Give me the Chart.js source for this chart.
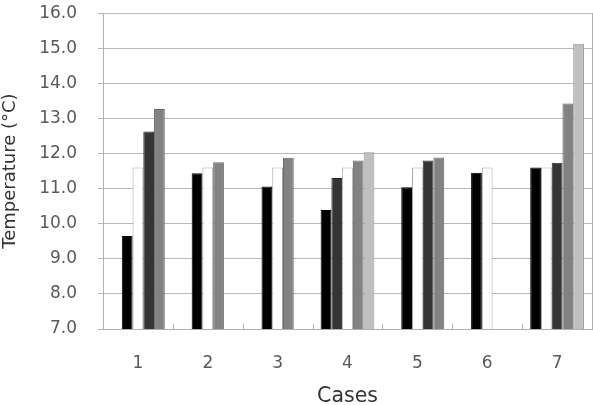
<!DOCTYPE html>
<html>
<head>
<meta charset="utf-8">
<script src="https://cdn.jsdelivr.net/npm/chart.js@4/dist/chart.umd.min.js"></script>
<style>
  html, body { margin: 0; padding: 0; background: #ffffff; }
  #wrap { width: 593px; height: 405px; }
</style>
</head>
<body>
<div id="wrap"><canvas id="c" width="593" height="405"></canvas></div>
<script>
// ---- data ----
const cases = ['1', '2', '3', '4', '5', '6', '7'];
const blackSeries  = [9.65, 11.44, 11.06, 10.39, 11.04, 11.45, 11.60];
const whiteSeries  = [11.60, 11.60, 11.60, 11.60, 11.60, 11.60, 11.60];
const darkSeries   = [12.63, null, null, 11.30, 11.80, null, 11.74];
const mediumSeries = [13.27, 11.75, 11.88, 11.80, 11.89, null, 13.43];
const lightSeries  = [null, null, null, 12.04, null, null, 15.13];
const yTicks = [7, 8, 9, 10, 11, 12, 13, 14, 15, 16];

// order of the series inside each case group (one entry per bar slot)
const slotOrder = [
  [null, 'black', 'white', 'dark', 'medium'],
  [null, 'black', 'white', 'medium', null],
  [null, 'black', 'white', 'medium', null],
  ['black', 'dark', 'white', 'medium', 'light'],
  [null, 'black', 'white', 'dark', 'medium'],
  [null, 'black', 'white', null, null],
  ['black', 'white', 'dark', 'medium', 'light']
];

// ---- styles ----
const seriesValues = { black: blackSeries, white: whiteSeries, dark: darkSeries, medium: mediumSeries, light: lightSeries };
const fillColors = { black: '#000000', white: '#ffffff', dark: '#353535', medium: '#828282', light: '#bfbfbf' };
const edgeColors = { black: '#000000', white: '#a8a8a8', dark: '#2a2a2a', medium: '#666666', light: '#959595' };
const FONT = "'DejaVu Sans', sans-serif";

const datasets = [0, 1, 2, 3, 4].map(slot => ({
  label: 'slot ' + (slot + 1),
  data: cases.map((c, i) => {
    const key = slotOrder[i][slot];
    return key ? seriesValues[key][i] : null;
  }),
  backgroundColor: cases.map((c, i) => {
    const key = slotOrder[i][slot];
    return key ? fillColors[key] : 'rgba(0,0,0,0)';
  }),
  borderColor: cases.map((c, i) => {
    const key = slotOrder[i][slot];
    return key ? edgeColors[key] : 'rgba(0,0,0,0)';
  }),
  borderWidth: 1,
  borderSkipped: 'bottom',
  barPercentage: 1.0,
  categoryPercentage: 5 / 6.5,
  yAxisID: 'y'
}));

const innerTicks = {
  id: 'innerTicks',
  afterDatasetsDraw(chart) {
    const x = chart.scales.x;
    const ctx = chart.ctx;
    const bottom = chart.chartArea.bottom;
    ctx.save();
    ctx.strokeStyle = '#b0b0b0';
    ctx.lineWidth = 1;
    for (let i = 1; i < cases.length; i++) {
      const px = Math.round((x.getPixelForValue(i - 1) + x.getPixelForValue(i)) / 2) + 0.5;
      ctx.beginPath();
      ctx.moveTo(px, bottom);
      ctx.lineTo(px, bottom - 5);
      ctx.stroke();
    }
    ctx.restore();
  }
};

new Chart(document.getElementById('c'), {
  type: 'bar',
  data: { labels: cases, datasets },
  plugins: [innerTicks],
  options: {
    responsive: false,
    animation: false,
    layout: { padding: { left: 0, right: 1, top: 0, bottom: 0 } },
    plugins: { legend: { display: false }, tooltip: { enabled: false } },
    scales: {
      x: {
        offset: true,
        grid: { display: false, drawTicks: false },
        border: { display: true, color: '#b0b0b0', width: 1 },
        ticks: { color: '#595959', font: { family: FONT, size: 17 }, padding: 24 },
        title: { display: true, text: 'Cases', color: '#333333', font: { family: FONT, size: 20.5, lineHeight: 0.8 }, padding: { top: 0, bottom: 0 } },
        afterFit(scale) { scale.height = 76; }
      },
      y: {
        min: 7,
        max: 16,
        afterBuildTicks(scale) { scale.ticks = yTicks.map(v => ({ value: v })); },
        grid: { color: '#b8b8b8', lineWidth: 1, drawTicks: true, tickLength: 23, tickBorderDash: [0, 18, 5, 0] },
        border: { display: true, color: '#b0b0b0', width: 1 },
        ticks: { color: '#595959', font: { family: FONT, size: 17 }, padding: 3, callback: v => Number(v).toFixed(1) },
        title: { display: true, text: 'Temperature (°C)', color: '#333333', font: { family: FONT, size: 18, lineHeight: 1.2 }, padding: { top: 0, bottom: 0 } },
        afterFit(scale) { scale.width = 103; }
      },
      y2: {
        position: 'right',
        min: 7,
        max: 16,
        grid: { display: false, drawTicks: false },
        border: { display: true, color: '#b0b0b0', width: 1 },
        ticks: { display: false },
        afterFit(scale) { scale.width = 0; }
      }
    }
  }
});
</script>
</body>
</html>
